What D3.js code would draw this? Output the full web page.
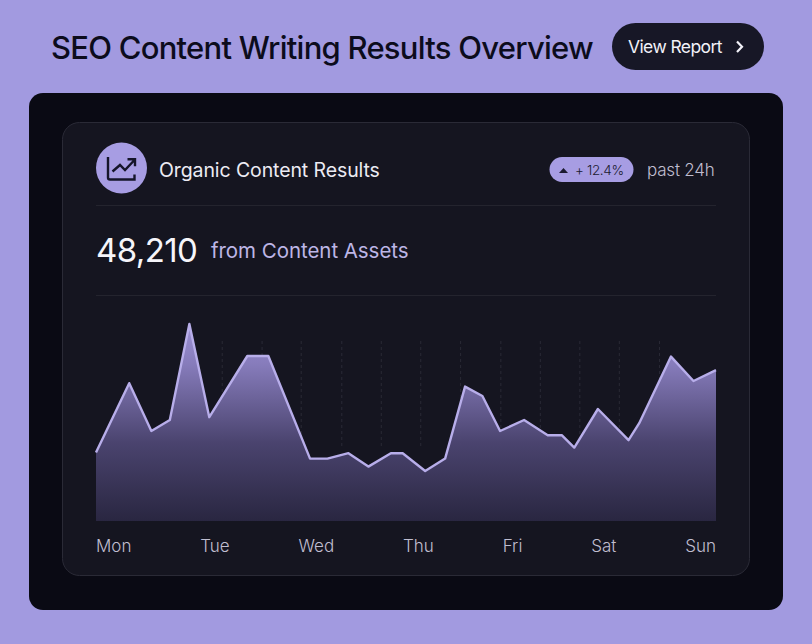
<!DOCTYPE html>
<html lang="en">
  <head>
    <meta charset="UTF-8" />
    <script src="https://d3js.org/d3.v7.min.js"></script>
    <title>SEO Content Writing Results Overview</title>
    <style>
      html,
      body {
        margin: 0;
        padding: 0;
        background: #a29ae0;
      }
      svg {
        display: block;
      }
      text {
        font-family: Inter, 'Noto Sans', sans-serif;
      }
    </style>
  </head>
  <body>
    <script>
      var width = 812
      var height = 644

      // hours since Monday 00:00
      var hours = [
        0, 9, 15, 20, 25.3, 30.7, 41, 46.7, 58, 62.7, 68.4, 73.8, 79.9, 83.1,
        89.2, 94.6, 100, 104.7, 109.5, 116, 122.4, 126.2, 129.6, 136, 144.3,
        147.2, 155.8, 161.9, 168
      ]
      var values = [
        34.2, 68.9, 45, 50.5, 98.5, 51.9, 82.5, 82.5, 31.2, 31.2, 33.9, 27.2,
        33.9, 33.9, 25, 31.2, 67.2, 62.5, 45, 50.5, 42.9, 42.9, 36.7, 56, 40.4,
        48.9, 82.2, 70, 75.4
      ]
      var days = ['Mon', 'Tue', 'Wed', 'Thu', 'Fri', 'Sat', 'Sun']
      var gridHours = [
        34.2, 45, 55.6, 66.6, 77.3, 88, 98.8, 109.7, 120.4, 131.1, 141.8, 152.7
      ]

      var x = d3.scaleLinear().domain([0, 168]).range([96, 716])
      var y = d3.scaleLinear().domain([0, 100]).range([521, 321])

      var svg = d3
        .select('body')
        .append('svg')
        .attr('width', width)
        .attr('height', height)

      var defs = svg.append('defs')
      var grad = defs
        .append('linearGradient')
        .attr('id', 'areaFill')
        .attr('gradientUnits', 'userSpaceOnUse')
        .attr('x1', 0)
        .attr('x2', 0)
        .attr('y1', y(98))
        .attr('y2', y(0))
      grad.append('stop').attr('offset', 0).attr('stop-color', '#a195da')
      grad.append('stop').attr('offset', 0.2).attr('stop-color', '#8a7fc0')
      grad.append('stop').attr('offset', 0.6).attr('stop-color', '#4c4571')
      grad.append('stop').attr('offset', 1).attr('stop-color', '#2a2742')

      // panels
      svg
        .append('rect')
        .attr('width', width)
        .attr('height', height)
        .attr('fill', '#a29ae0')
      svg
        .append('rect')
        .attr('x', 29)
        .attr('y', 93)
        .attr('width', 754)
        .attr('height', 517)
        .attr('rx', 14)
        .attr('fill', '#0a0a14')
      svg
        .append('rect')
        .attr('x', 62.5)
        .attr('y', 122.5)
        .attr('width', 687)
        .attr('height', 453)
        .attr('rx', 17)
        .attr('fill', '#151520')
        .attr('stroke', '#2a2a36')

      // title and button
      svg
        .append('text')
        .attr('x', 51)
        .attr('y', 59)
        .attr('font-size', 31)
        .attr('font-weight', 500)
        .attr('letter-spacing', -0.75)
        .attr('fill', '#0c0c1c')
        .text('SEO Content Writing Results Overview')
      svg
        .append('rect')
        .attr('x', 612)
        .attr('y', 23)
        .attr('width', 152)
        .attr('height', 47)
        .attr('rx', 23.5)
        .attr('fill', '#171726')
      svg
        .append('text')
        .attr('x', 628)
        .attr('y', 53)
        .attr('font-size', 17.5)
        .attr('font-weight', 400)
        .attr('letter-spacing', -0.6)
        .attr('fill', '#f2f1f8')
        .text('View Report')
      svg
        .append('path')
        .attr('d', 'M737 41.5l5 5.2-5 5.2')
        .attr('fill', 'none')
        .attr('stroke', '#f2f1f8')
        .attr('stroke-width', 2.2)

      // card header
      svg
        .append('circle')
        .attr('cx', 121.5)
        .attr('cy', 168)
        .attr('r', 25.5)
        .attr('fill', '#a79de3')
      svg
        .append('path')
        .attr('d', 'M108 157v20.5q0 2 2 2h24.5v-5')
        .attr('fill', 'none')
        .attr('stroke', '#15152a')
        .attr('stroke-width', 2.4)
      svg
        .append('path')
        .attr('d', 'M112.5 171.5l7.5-6.5 5 5 9.5-10M127.5 159.3h7.5v7')
        .attr('fill', 'none')
        .attr('stroke', '#15152a')
        .attr('stroke-width', 2.4)
      svg
        .append('text')
        .attr('x', 159)
        .attr('y', 176.5)
        .attr('font-size', 19.5)
        .attr('font-weight', 400)
        .attr('letter-spacing', -0.1)
        .attr('fill', '#ecebf3')
        .text('Organic Content Results')

      svg
        .append('rect')
        .attr('x', 549.5)
        .attr('y', 157)
        .attr('width', 84)
        .attr('height', 25)
        .attr('rx', 12.5)
        .attr('fill', '#a79de3')
      svg
        .append('path')
        .attr('d', 'M559 173l4.5-5 4.5 5z')
        .attr('fill', '#1b1a30')
      svg
        .append('text')
        .attr('x', 575)
        .attr('y', 175)
        .attr('font-size', 13.5)
        .attr('font-weight', 300)
        .attr('letter-spacing', -0.35)
        .attr('fill', '#1b1a30')
        .text('+ 12.4%')
      svg
        .append('text')
        .attr('x', 647)
        .attr('y', 176)
        .attr('font-size', 17)
        .attr('font-weight', 300)
        .attr('letter-spacing', -0.2)
        .attr('fill', '#c0bed0')
        .text('past 24h')

      svg
        .selectAll('line.divider')
        .data([205.5, 295.5])
        .enter()
        .append('line')
        .attr('class', 'divider')
        .attr('x1', x(0))
        .attr('x2', x(168))
        .attr('y1', function (d) {
          return d
        })
        .attr('y2', function (d) {
          return d
        })
        .attr('stroke', '#24242e')

      // big number
      svg
        .append('text')
        .attr('x', 96)
        .attr('y', 262)
        .attr('font-size', 33)
        .attr('font-weight', 400)
        .attr('letter-spacing', -0.6)
        .attr('fill', '#f6f5fa')
        .text('48,210')
      svg
        .append('text')
        .attr('x', 211)
        .attr('y', 258)
        .attr('font-size', 20.5)
        .attr('letter-spacing', -0.05)
        .attr('fill', '#bdb6e6')
        .text('from Content Assets')

      // dashed grid sits behind the area
      svg
        .selectAll('line.grid')
        .data(gridHours)
        .enter()
        .append('line')
        .attr('class', 'grid')
        .attr('x1', function (d) {
          return x(d)
        })
        .attr('x2', function (d) {
          return x(d)
        })
        .attr('y1', 341)
        .attr('y2', 449)
        .attr('stroke', '#2a2a35')
        .attr('stroke-dasharray', '3 3')

      var points = d3.zip(hours, values)

      var area = d3
        .area()
        .x(function (d) {
          return x(d[0])
        })
        .y0(y(0))
        .y1(function (d) {
          return y(d[1])
        })
      var line = d3
        .line()
        .x(function (d) {
          return x(d[0])
        })
        .y(function (d) {
          return y(d[1])
        })

      svg
        .append('path')
        .datum(points)
        .attr('d', area)
        .attr('fill', 'url(#areaFill)')
        .attr('fill-opacity', 0.97)
      svg
        .append('path')
        .datum(points)
        .attr('d', line)
        .attr('fill', 'none')
        .attr('stroke', '#b8aeea')
        .attr('stroke-width', 2.4)
        .attr('stroke-linejoin', 'round')

      // day labels are spread edge to edge with equal gaps
      var labels = svg
        .selectAll('text.day')
        .data(days)
        .enter()
        .append('text')
        .attr('class', 'day')
        .attr('y', 552)
        .attr('font-size', 17)
        .attr('font-weight', 300)
        .attr('fill', '#c0bed0')
        .text(function (d) {
          return d
        })
      var widths = labels.nodes().map(function (n) {
        return n.getComputedTextLength()
      })
      var gap = (x(168) - x(0) - d3.sum(widths)) / (days.length - 1)
      labels.attr('x', function (d, i) {
        return x(0) + d3.sum(widths.slice(0, i)) + gap * i
      })
    </script>
  </body>
</html>
